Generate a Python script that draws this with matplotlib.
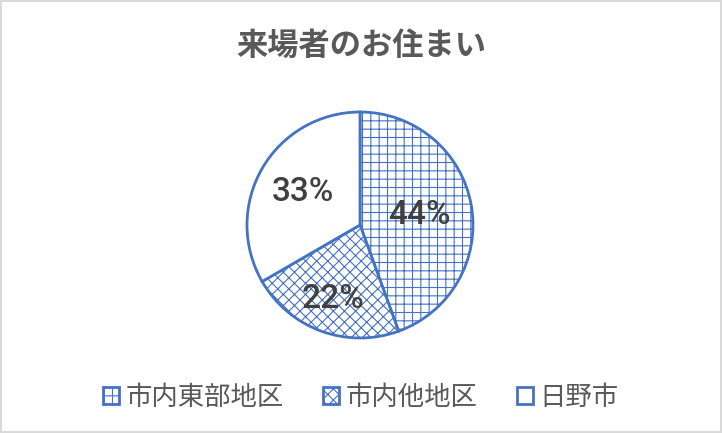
import matplotlib
matplotlib.use('Agg')
import matplotlib.pyplot as plt
import numpy as np

plt.rcParams['font.family'] = ['Noto Sans CJK JP', 'DejaVu Sans']
plt.rcParams['hatch.linewidth'] = 0.8

# data
labels = ['市内東部地区', '市内他地区', '日野市']
values = [4, 2, 3]
hatches = ['++', 'xxx', '']
label_dist = [0.53, 0.70, 0.58]

blue = '#4472C4'

fig = plt.figure(figsize=(7.22, 4.33), dpi=100)
fig.patch.set_edgecolor('#d9d9d9')
fig.patch.set_linewidth(1.5)

# pie centre ~ (360, 208) px from bottom, radius ~113 px
r_px = 113
lim = 1.1
w = 2 * lim * r_px / 722
h = 2 * lim * r_px / 433
ax = fig.add_axes([360 / 722 - w / 2, 208 / 433 - h / 2, w, h])

wedges, _ = ax.pie(values, startangle=90, counterclock=False,
                   colors=['white'] * 3,
                   wedgeprops=dict(edgecolor=blue, linewidth=2))
for wd, hp in zip(wedges, hatches):
    wd.set_hatch(hp)

total = sum(values)
for wd, v, d in zip(wedges, values, label_dist):
    th = np.deg2rad((wd.theta1 + wd.theta2) / 2)
    ax.text(d * np.cos(th), d * np.sin(th), '%d%%' % round(100 * v / total),
            ha='center', va='center', fontsize=24, color='#404040',
            family=['Roboto', 'DejaVu Sans'], fontweight='medium')

ax.set_xlim(-lim, lim)
ax.set_ylim(-lim, lim)
ax.set_aspect('equal')
ax.axis('off')

fig.text(0.5, 0.895, '来場者のお住まい', ha='center', va='center',
         fontsize=22.5, color='#595959', fontweight='bold')

fig.legend(wedges, labels, loc='center', bbox_to_anchor=(0.5, 0.083),
           ncol=3, frameon=False, labelcolor='#595959',
           prop={'size': 19},
           handlelength=0.6, handleheight=0.6, handletextpad=0.25,
           columnspacing=1.5)

plt.savefig('out.png', dpi=100)
